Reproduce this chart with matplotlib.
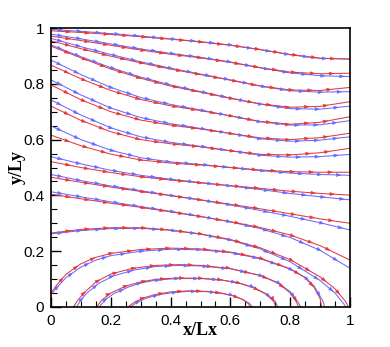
import matplotlib
matplotlib.use("Agg")
import matplotlib.pyplot as plt
from matplotlib.patches import FancyArrowPatch
import numpy as np

# puntos (x/Lx, y/Ly)
x_grid = [0.0, 0.1, 0.2, 0.3, 0.4, 0.5, 0.6, 0.7, 0.8, 0.9, 1.0]

# lineas que entran por la izquierda y salen por la derecha
red_y = [
    [0.990, 0.984, 0.977, 0.969, 0.960, 0.950, 0.938, 0.923, 0.905, 0.892, 0.888],
    [0.971, 0.955, 0.938, 0.921, 0.906, 0.893, 0.877, 0.858, 0.842, 0.836, 0.838],
    [0.954, 0.926, 0.899, 0.875, 0.853, 0.833, 0.813, 0.792, 0.778, 0.776, 0.787],
    [0.935, 0.893, 0.853, 0.820, 0.792, 0.770, 0.748, 0.728, 0.716, 0.719, 0.736],
    [0.867, 0.818, 0.776, 0.744, 0.721, 0.704, 0.685, 0.665, 0.655, 0.662, 0.682],
    [0.796, 0.743, 0.700, 0.670, 0.652, 0.638, 0.622, 0.606, 0.600, 0.607, 0.623],
    [0.720, 0.669, 0.628, 0.600, 0.585, 0.574, 0.560, 0.547, 0.545, 0.553, 0.569],
    [0.616, 0.578, 0.548, 0.527, 0.516, 0.509, 0.500, 0.491, 0.485, 0.483, 0.483],
    [0.521, 0.500, 0.482, 0.467, 0.455, 0.445, 0.435, 0.425, 0.415, 0.407, 0.401],
    [0.465, 0.447, 0.430, 0.414, 0.399, 0.384, 0.368, 0.352, 0.334, 0.316, 0.300],
    [0.404, 0.388, 0.372, 0.357, 0.341, 0.324, 0.306, 0.285, 0.258, 0.220, 0.168],
]
blue_y = [
    [0.995, 0.988, 0.980, 0.971, 0.961, 0.951, 0.939, 0.922, 0.904, 0.891, 0.889],
    [0.978, 0.961, 0.943, 0.925, 0.909, 0.895, 0.878, 0.857, 0.839, 0.829, 0.826],
    [0.963, 0.933, 0.905, 0.879, 0.856, 0.835, 0.814, 0.792, 0.775, 0.770, 0.772],
    [0.939, 0.897, 0.858, 0.824, 0.796, 0.772, 0.749, 0.727, 0.711, 0.709, 0.720],
    [0.885, 0.833, 0.787, 0.751, 0.726, 0.706, 0.685, 0.664, 0.652, 0.653, 0.668],
    [0.814, 0.760, 0.713, 0.679, 0.657, 0.640, 0.622, 0.603, 0.594, 0.598, 0.610],
    [0.742, 0.688, 0.642, 0.610, 0.590, 0.576, 0.560, 0.544, 0.537, 0.539, 0.547],
    [0.649, 0.600, 0.562, 0.535, 0.520, 0.511, 0.500, 0.489, 0.480, 0.475, 0.472],
    [0.539, 0.513, 0.490, 0.472, 0.458, 0.446, 0.434, 0.421, 0.407, 0.395, 0.384],
    [0.475, 0.453, 0.434, 0.417, 0.400, 0.384, 0.366, 0.346, 0.325, 0.302, 0.276],
    [0.413, 0.395, 0.377, 0.360, 0.343, 0.325, 0.305, 0.281, 0.249, 0.203, 0.139],
]

# lineas que terminan en el borde inferior
red_bajo_x = [
    [0.0, 0.1, 0.2, 0.3, 0.4, 0.5, 0.6, 0.7, 0.8, 0.9, 0.95, 0.985, 0.995],
    [0.0, 0.02, 0.05, 0.1, 0.15, 0.2, 0.3, 0.4, 0.5, 0.6, 0.7, 0.8, 0.85, 0.88, 0.9, 0.905],
    [0.075, 0.09, 0.11, 0.15, 0.2, 0.27, 0.35, 0.43, 0.5, 0.6, 0.7, 0.76, 0.8, 0.82, 0.828],
    [0.153, 0.17, 0.2, 0.25, 0.3, 0.35, 0.42, 0.5, 0.57, 0.63, 0.68, 0.72, 0.745, 0.752],
    [0.257, 0.28, 0.31, 0.35, 0.4, 0.46, 0.52, 0.57, 0.61, 0.64, 0.66, 0.667],
]
red_bajo_y = [
    [0.265, 0.278, 0.284, 0.284, 0.276, 0.262, 0.242, 0.212, 0.170, 0.108, 0.065, 0.02, 0.0],
    [0.05, 0.08, 0.117, 0.155, 0.178, 0.192, 0.206, 0.211, 0.208, 0.197, 0.175, 0.137, 0.105, 0.07, 0.03, 0.0],
    [0.0, 0.025, 0.05, 0.09, 0.118, 0.138, 0.149, 0.152, 0.149, 0.138, 0.113, 0.085, 0.05, 0.02, 0.0],
    [0.0, 0.025, 0.05, 0.075, 0.09, 0.099, 0.104, 0.103, 0.097, 0.085, 0.068, 0.045, 0.02, 0.0],
    [0.0, 0.018, 0.033, 0.045, 0.054, 0.058, 0.056, 0.05, 0.04, 0.027, 0.012, 0.0],
]
blue_bajo_x = [
    [0.0, 0.1, 0.2, 0.3, 0.4, 0.5, 0.6, 0.7, 0.8, 0.9, 0.95, 0.98, 0.985],
    [0.0, 0.02, 0.05, 0.1, 0.15, 0.2, 0.3, 0.4, 0.5, 0.6, 0.7, 0.8, 0.85, 0.88, 0.91, 0.915],
    [0.085, 0.10, 0.12, 0.16, 0.21, 0.28, 0.35, 0.43, 0.5, 0.6, 0.7, 0.76, 0.8, 0.825, 0.835],
    [0.162, 0.18, 0.21, 0.26, 0.3, 0.35, 0.42, 0.5, 0.57, 0.63, 0.68, 0.72, 0.75, 0.758],
    [0.265, 0.29, 0.32, 0.36, 0.41, 0.46, 0.52, 0.57, 0.61, 0.64, 0.665, 0.673],
]
blue_bajo_y = [
    [0.262, 0.274, 0.281, 0.282, 0.275, 0.261, 0.240, 0.208, 0.162, 0.095, 0.05, 0.01, 0.0],
    [0.045, 0.07, 0.105, 0.143, 0.168, 0.184, 0.200, 0.207, 0.205, 0.195, 0.173, 0.136, 0.106, 0.075, 0.02, 0.0],
    [0.0, 0.025, 0.05, 0.085, 0.112, 0.133, 0.145, 0.149, 0.147, 0.137, 0.113, 0.087, 0.055, 0.02, 0.0],
    [0.0, 0.025, 0.048, 0.072, 0.086, 0.096, 0.102, 0.102, 0.097, 0.086, 0.069, 0.047, 0.02, 0.0],
    [0.0, 0.018, 0.032, 0.044, 0.052, 0.056, 0.055, 0.049, 0.04, 0.028, 0.012, 0.0],
]

ticks = [0, 0.2, 0.4, 0.6, 0.8, 1]
tick_labels = ["0", "0.2", "0.4", "0.6", "0.8", "1"]

ROJO = "#e4393c"
AZUL = "#6a6aff"


def poner_flechas(ax, xs, ys, color, inicio, paso):
    # flechas a lo largo de la linea, cada 'paso' pixeles aprox.
    px = np.asarray(xs) * 299
    py = np.asarray(ys) * 279
    seg = np.hypot(np.diff(px), np.diff(py))
    acum = np.concatenate([[0], np.cumsum(seg)])
    s = inicio
    while s < acum[-1] - 4:
        i = np.searchsorted(acum, s) - 1
        i = max(0, min(i, len(seg) - 1))
        t = (s - acum[i]) / seg[i]
        x = xs[i] + t * (xs[i + 1] - xs[i])
        y = ys[i] + t * (ys[i + 1] - ys[i])
        dx = (xs[i + 1] - xs[i]) / seg[i]
        dy = (ys[i + 1] - ys[i]) / seg[i]
        flecha = FancyArrowPatch((x - dx * 4, y - dy * 4), (x, y),
                                 arrowstyle="-|>,head_length=3,head_width=1.1",
                                 mutation_scale=1, color=color, lw=0.4,
                                 shrinkA=0, shrinkB=0, zorder=3)
        ax.add_patch(flecha)
        s += paso


fig = plt.figure(figsize=(3.9, 3.47), dpi=100)
ax = fig.add_axes([51 / 390, 40 / 347, 299 / 390, 279 / 347])

for yr, yb in zip(red_y, blue_y):
    ax.plot(x_grid, yb, color=AZUL, lw=0.75)
    ax.plot(x_grid, yr, color=ROJO, lw=0.75)
    poner_flechas(ax, x_grid, yb, AZUL, 12, 19)
    poner_flechas(ax, x_grid, yr, ROJO, 20, 19)

for xr, yr, xb, yb in zip(red_bajo_x, red_bajo_y, blue_bajo_x, blue_bajo_y):
    ax.plot(xb, yb, color=AZUL, lw=0.75)
    ax.plot(xr, yr, color=ROJO, lw=0.75)
    poner_flechas(ax, xb, yb, AZUL, 12, 19)
    poner_flechas(ax, xr, yr, ROJO, 20, 19)

ax.set_xlim(0, 1)
ax.set_ylim(0, 1)
ax.set_xticks(ticks)
ax.set_yticks(ticks)
ax.set_xticklabels(tick_labels, family="Liberation Sans", fontsize=11)
ax.set_yticklabels(tick_labels, family="Liberation Sans", fontsize=11)
ax.set_xticks(np.arange(0, 1.001, 0.05), minor=True)
ax.set_yticks(np.arange(0, 1.001, 0.05), minor=True)
ax.tick_params(which="major", direction="in", length=7, width=1, pad=5)
ax.tick_params(which="minor", direction="in", length=4, width=0.8)
for lado in ax.spines.values():
    lado.set_linewidth(1.2)

ax.set_xlabel("x/Lx", family="Liberation Serif", fontweight="bold", fontsize=13, labelpad=-4)
ax.set_ylabel("y/Ly", family="Liberation Serif", fontweight="bold", fontsize=13, labelpad=-2)

fig.savefig("out.png", dpi=100)
